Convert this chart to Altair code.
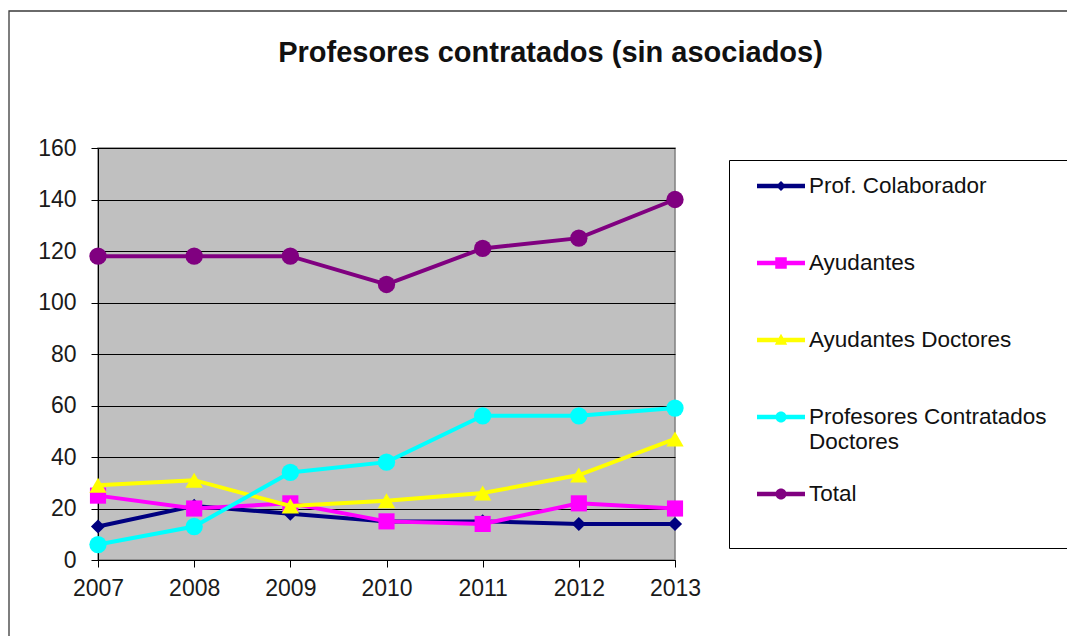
import altair as alt
import pandas as pd

years = [2007, 2008, 2009, 2010, 2011, 2012, 2013]
series_names = ["Prof. Colaborador", "Ayudantes", "Ayudantes Doctores",
                "Profesores Contratados Doctores", "Total"]
colaborador = [13, 21, 18, 15, 15, 14, 14]
ayudantes = [25, 20, 22, 15, 14, 22, 20]
ayudantes_doctores = [29, 31, 21, 23, 26, 33, 47]
contratados_doctores = [6, 13, 34, 38, 56, 56, 59]
total = [118, 118, 118, 107, 121, 125, 140]
y_ticks = [0, 20, 40, 60, 80, 100, 120, 140, 160]
title_text = "Profesores contratados (sin asociados)"

colors = ["#000080", "#FF00FF", "#FFFF00", "#00FFFF", "#800080"]
shapes = ["diamond", "square", "triangle-up", "circle", "circle"]
sizes = [200, 260, 300, 300, 300]

# legend glyphs (symbol size 576 -> 1 unit = 12 px): a 48 px line with the
# marker on it, plus two empty move-tos that give every entry the same height
extent = "M0,-1M0,3.33"
bar = "M-2,-0.18H2V0.18H-2Z"
legend_paths = [
    extent + bar + "M0,-0.42L0.42,0L0,0.42L-0.42,0Z",
    extent + bar + "M-0.48,-0.48H0.48V0.48H-0.48Z",
    extent + bar + "M0,-0.52L0.52,0.4L-0.52,0.4Z",
    extent + bar + "M-0.46,0A0.46,0.46 0 1,1 0.46,0A0.46,0.46 0 1,1 -0.46,0Z",
    extent + bar + "M-0.46,0A0.46,0.46 0 1,1 0.46,0A0.46,0.46 0 1,1 -0.46,0Z",
]

values = [colaborador, ayudantes, ayudantes_doctores, contratados_doctores, total]
rows = []
for name, vals in zip(series_names, values):
    for yr, v in zip(years, vals):
        rows.append({"year": yr, "value": v, "series": name})
df = pd.DataFrame(rows)

FONT = "Liberation Sans"

x_enc = alt.X("year:O", scale=alt.Scale(padding=0),
              axis=alt.Axis(title=None, labelAngle=0, labelFontSize=23,
                            labelFont=FONT, labelColor="#1a1a1a",
                            tickSize=7, tickColor="#000", domainColor="#000",
                            labelPadding=10, grid=False))
y_enc = alt.Y("value:Q", scale=alt.Scale(domain=[0, 160], nice=False),
              axis=alt.Axis(title=None, values=y_ticks, labelFontSize=23,
                            labelFont=FONT, labelColor="#1a1a1a",
                            tickSize=7, tickColor="#000", domainColor="#000",
                            labelPadding=15, grid=True, gridColor="#000",
                            gridWidth=1))

base = alt.Chart(df)

frame = alt.Chart(pd.DataFrame({"k": [0]})).mark_rect(
    fill="white", fillOpacity=0, stroke="#3a3a3a", strokeWidth=1.3
).encode(x=alt.value(-89), x2=alt.value(1002), y=alt.value(-137), y2=alt.value(552))

# one blank (non-whitespace) glyph so the legend box runs past the right edge
blank = "\u2800"
label_expr = ("datum.label == 'Profesores Contratados Doctores' ? "
              "['Profesores Contratados" + blank + "', 'Doctores'] : datum.label")

# carries the legend only; its own points are pushed out of the clipped view
legend_layer = base.mark_point(filled=True, clip=True, yOffset=3000, opacity=1).encode(
    x=x_enc, y=y_enc,
    color=alt.Color("series:N", scale=alt.Scale(domain=series_names, range=colors),
                    legend=alt.Legend(
                        title=None, orient="none", legendX=631, legendY=12,
                        symbolSize=576, symbolOpacity=1, symbolStrokeWidth=0,
                        labelFont=FONT, labelFontSize=22.5, labelColor="#111",
                        labelLimit=700, labelOffset=16, symbolOffset=26,
                        padding=14, rowPadding=25, strokeColor="#000",
                        fillColor="white", labelExpr=label_expr)),
    shape=alt.Shape("series:N", scale=alt.Scale(domain=series_names, range=legend_paths)),
)

layers = [frame, legend_layer]
for name, c, s, sz in zip(series_names, colors, shapes, sizes):
    sub = base.transform_filter(alt.datum.series == name)
    layers.append(sub.mark_line(color=c, strokeWidth=4).encode(x=x_enc, y=y_enc))
    layers.append(sub.mark_point(color=c, shape=s, size=sz, filled=True, opacity=1).encode(x=x_enc, y=y_enc))

chart = alt.layer(*layers).properties(
    width=577, height=412,
    background="white",
    autosize=alt.AutoSizeParams(type="none"),
    padding={"left": 90, "top": 140, "right": 392, "bottom": 76},
    title=alt.TitleParams(title_text, font=FONT, fontSize=29, fontWeight="bold",
                          color="#111", anchor="middle", frame="group",
                          dx=164, offset=-81, baseline="alphabetic"),
).configure_view(fill="#C0C0C0", stroke="#808080", strokeWidth=1.5)

chart.save("out.html", embed_options={"renderer": "svg", "actions": False})
